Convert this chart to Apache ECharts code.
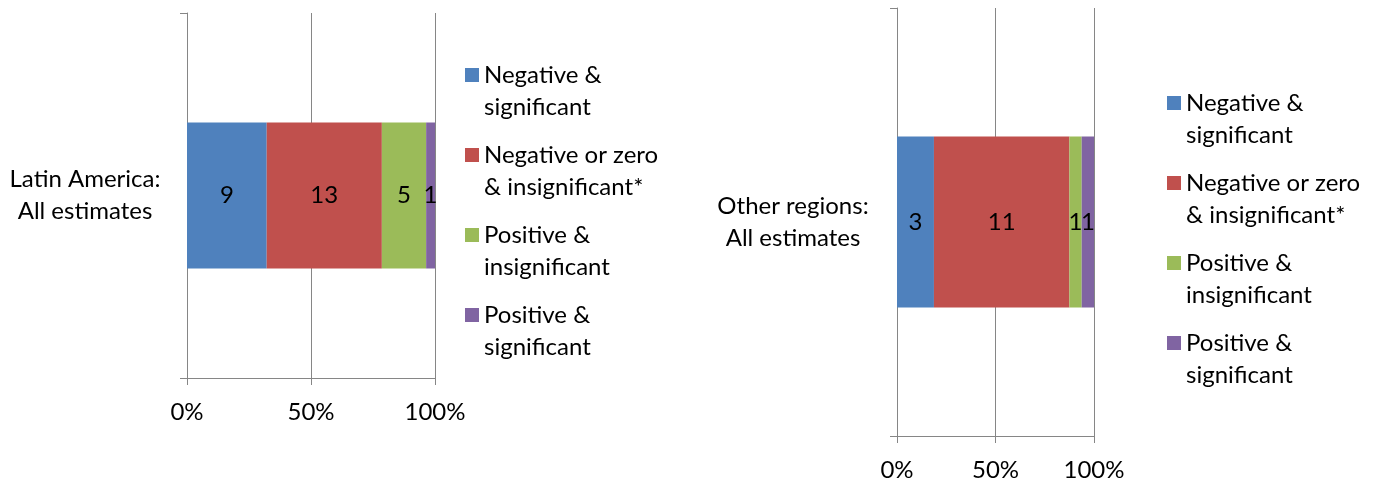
<!doctype html>
<html>
<head>
<meta charset="UTF-8">
<title>Estimates by region</title>
<script src="https://cdn.jsdelivr.net/npm/echarts@6/dist/echarts.min.js"></script>
<style>
  html, body { margin: 0; padding: 0; background: #fff; }
  #chart { width: 1384px; height: 483px; }
</style>
</head>
<body>
<div id="chart"></div>
<script>
// data
var categories = ['Latin America:\nAll estimates', 'Other regions:\nAll estimates'];
var seriesNames = ['Negative & significant', 'Negative or zero & insignificant*',
  'Positive & insignificant', 'Positive & significant'];
var legendText = ['Negative &\nsignificant', 'Negative or zero\n& insignificant*',
  'Positive &\ninsignificant', 'Positive &\nsignificant'];
var latinAmerica = [9, 13, 5, 1];
var otherRegions = [3, 11, 1, 1];
var colors = ['#4F81BD', '#C0504D', '#9BBB59', '#8064A2'];

var FONT = 'Lato';
var FS = 24;
var AXIS = '#868686';
var panels = [latinAmerica, otherRegions];

// legend icon: square on the first text line
var icon = 'path://M0,0h14v14h-14Z M0,46h14';

function sum(a) {
  var s = 0;
  for (var i = 0; i < a.length; i++) s += a[i];
  return s;
}

var grids = [
  { left: 187, top: 13, width: 248, height: 365 },
  { left: 897, top: 8, width: 197, height: 428 }
];
var labelMargin = [102, 104];

var xAxes = [], yAxes = [], series = [];
for (var p = 0; p < 2; p++) {
  xAxes.push({
    type: 'value', gridIndex: p, min: 0, max: 100, interval: 50,
    axisLine: { show: true, lineStyle: { color: AXIS, width: 1 } },
    axisTick: { show: true, length: 7, lineStyle: { color: AXIS } },
    splitLine: { show: true, lineStyle: { color: AXIS, width: 1 } },
    axisLabel: { formatter: '{value}%', color: '#000', fontFamily: FONT, fontSize: FS, margin: 22 }
  });
  yAxes.push({
    type: 'category', gridIndex: p, data: [categories[p]],
    axisLine: { show: true, lineStyle: { color: AXIS, width: 1 } },
    axisTick: { show: true, length: 7, lineStyle: { color: AXIS } },
    axisLabel: { color: '#000', fontFamily: FONT, fontSize: FS, lineHeight: 32,
      align: 'center', margin: labelMargin[p] }
  });
  var total = sum(panels[p]);
  for (var i = 0; i < seriesNames.length; i++) {
    series.push({
      name: seriesNames[i], type: 'bar', stack: 'panel' + p,
      xAxisIndex: p, yAxisIndex: p, barWidth: '40%',
      itemStyle: { color: colors[i] },
      label: {
        show: true, position: 'inside', color: '#000', fontFamily: FONT, fontSize: FS,
        formatter: function (prm) { return prm.data.raw; }
      },
      data: [{ value: panels[p][i] / total * 100, raw: panels[p][i] }]
    });
  }
}

function makeLegend(left, top) {
  return {
    orient: 'vertical', left: left, top: top, padding: 0,
    itemWidth: 14, itemHeight: 46, itemGap: 16, icon: icon,
    data: seriesNames,
    formatter: function (name) { return legendText[seriesNames.indexOf(name)]; },
    textStyle: { color: '#000', fontFamily: FONT, fontSize: FS, lineHeight: 32 }
  };
}

var chart = echarts.init(document.getElementById('chart'));
chart.setOption({
  animation: false,
  legend: [makeLegend(465, 59), makeLegend(1167, 87)],
  grid: grids,
  xAxis: xAxes,
  yAxis: yAxes,
  series: series
});
</script>
</body>
</html>
